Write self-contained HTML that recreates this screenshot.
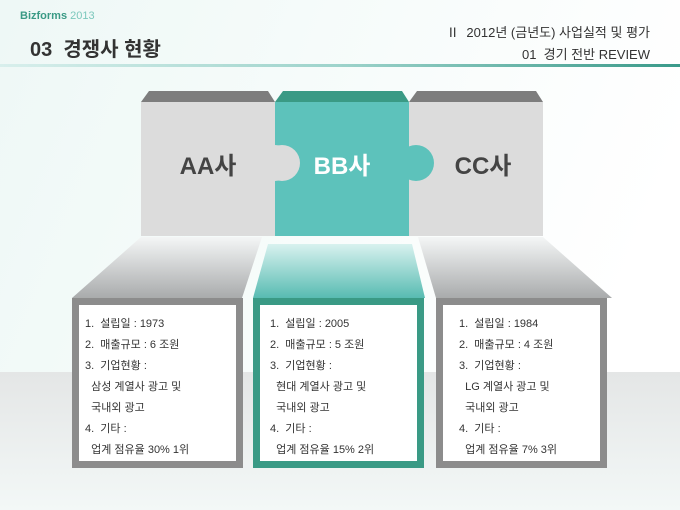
<!DOCTYPE html>
<html><head><meta charset="utf-8"><style>
body{margin:0;width:680px;height:510px;overflow:hidden;font-family:"Liberation Sans","Noto Sans CJK KR",sans-serif;}
.t{position:absolute;font-size:11px;color:#333;line-height:21px;}
</style></head><body>
<svg width="680" height="510" style="position:absolute;left:0;top:0">
<defs>
<linearGradient id="bg" x1="0" y1="0" x2="1" y2="0.3"><stop offset="0" stop-color="#eef8f6"/><stop offset="1" stop-color="#ffffff"/></linearGradient>
<linearGradient id="fl" x1="0" y1="0" x2="0" y2="1"><stop offset="0" stop-color="#e4e6e6"/><stop offset="1" stop-color="#f3f8f7"/></linearGradient>
<linearGradient id="ln" x1="0" y1="0" x2="1" y2="0"><stop offset="0" stop-color="#d8efec"/><stop offset="0.5" stop-color="#9dd3cb"/><stop offset="1" stop-color="#3a9a8a"/></linearGradient>
<linearGradient id="gf" x1="0" y1="0" x2="0" y2="1"><stop offset="0" stop-color="#f4f6f6"/><stop offset="1" stop-color="#a9abac"/></linearGradient>
<linearGradient id="tf" x1="0" y1="0" x2="0" y2="1"><stop offset="0" stop-color="#d8f2ef"/><stop offset="1" stop-color="#58bcb2"/></linearGradient>
</defs>
<rect width="680" height="510" fill="url(#bg)"/>
<rect y="372" width="680" height="138" fill="url(#fl)"/>
<rect x="0" y="64" width="680" height="3" fill="url(#ln)"/>
<!-- funnels -->
<polygon points="141,237 262,237 242,298 72,298" fill="url(#gf)"/>
<polygon points="268,244 412,244 425,298 253,298" fill="url(#tf)"/>
<polygon points="418,237 543,237 612,298 436,298" fill="url(#gf)"/>
<!-- top bevels -->
<polygon points="149,91 268,91 275,102 141,102" fill="#7d7d7d"/>
<polygon points="283,91 402,91 409,102 275,102" fill="#3a9a85"/>
<polygon points="417,91 536,91 543,102 409,102" fill="#7d7d7d"/>
<!-- faces -->
<rect x="141" y="102" width="134" height="134" fill="#dcdcdc"/>
<rect x="275" y="102" width="134" height="134" fill="#5dc2bb"/>
<rect x="409" y="102" width="134" height="134" fill="#dcdcdc"/>
<path d="M275,145 A18,18 0 0 1 275,181 Z" fill="#dcdcdc"/>
<circle cx="282" cy="163" r="18" fill="#dcdcdc"/>
<rect x="263" y="140" width="12" height="46" fill="#dcdcdc"/>
<circle cx="416" cy="163" r="18" fill="#5dc2bb"/>
<rect x="397" y="140" width="12" height="46" fill="#5dc2bb"/>
<text x="208" y="174" font-size="24" font-weight="bold" fill="#444" text-anchor="middle" font-family="Liberation Sans,Noto Sans CJK KR,sans-serif">AA사</text>
<text x="342" y="174" font-size="24" font-weight="bold" fill="#fff" text-anchor="middle" font-family="Liberation Sans,Noto Sans CJK KR,sans-serif">BB사</text>
<text x="483" y="174" font-size="24" font-weight="bold" fill="#444" text-anchor="middle" font-family="Liberation Sans,Noto Sans CJK KR,sans-serif">CC사</text>
<!-- boxes -->
<rect x="72" y="298" width="171" height="170" fill="#8c8c8c"/>
<rect x="79" y="305" width="157" height="156" fill="#fff"/>
<rect x="253" y="298" width="171" height="170" fill="#3a9a85"/>
<rect x="260" y="305" width="157" height="156" fill="#fff"/>
<rect x="436" y="298" width="171" height="170" fill="#8c8c8c"/>
<rect x="443" y="305" width="157" height="156" fill="#fff"/>
</svg>
<div style="position:absolute;left:20px;top:10px;font-size:11px;font-weight:bold;color:#3a9a85">Bizforms <span style="font-weight:normal;color:#7cc8bc">2013</span></div>
<div style="position:absolute;left:30px;top:33px;font-size:20px;font-weight:bold;color:#333">03&nbsp; 경쟁사 현황</div>
<div style="position:absolute;right:30px;top:22px;font-size:13px;color:#333;text-align:right">Ⅱ&nbsp; 2012년 (금년도) 사업실적 및 평가</div>
<div style="position:absolute;right:30px;top:44px;font-size:13px;color:#333;text-align:right">01&nbsp; 경기 전반 REVIEW</div>
<div class="t" style="left:85px;top:314px">1.&nbsp; 설립일 : 1973<br>2.&nbsp; 매출규모 : 6 조원<br>3.&nbsp; 기업현황 :<br>&nbsp;&nbsp;삼성 계열사 광고 및<br>&nbsp;&nbsp;국내외 광고<br>4.&nbsp; 기타 :<br>&nbsp;&nbsp;업계 점유율 30% 1위</div>
<div class="t" style="left:270px;top:314px">1.&nbsp; 설립일 : 2005<br>2.&nbsp; 매출규모 : 5 조원<br>3.&nbsp; 기업현황 :<br>&nbsp;&nbsp;현대 계열사 광고 및<br>&nbsp;&nbsp;국내외 광고<br>4.&nbsp; 기타 :<br>&nbsp;&nbsp;업계 점유율 15% 2위</div>
<div class="t" style="left:459px;top:314px">1.&nbsp; 설립일 : 1984<br>2.&nbsp; 매출규모 : 4 조원<br>3.&nbsp; 기업현황 :<br>&nbsp;&nbsp;LG 계열사 광고 및<br>&nbsp;&nbsp;국내외 광고<br>4.&nbsp; 기타 :<br>&nbsp;&nbsp;업계 점유율 7% 3위</div>
</body></html>
